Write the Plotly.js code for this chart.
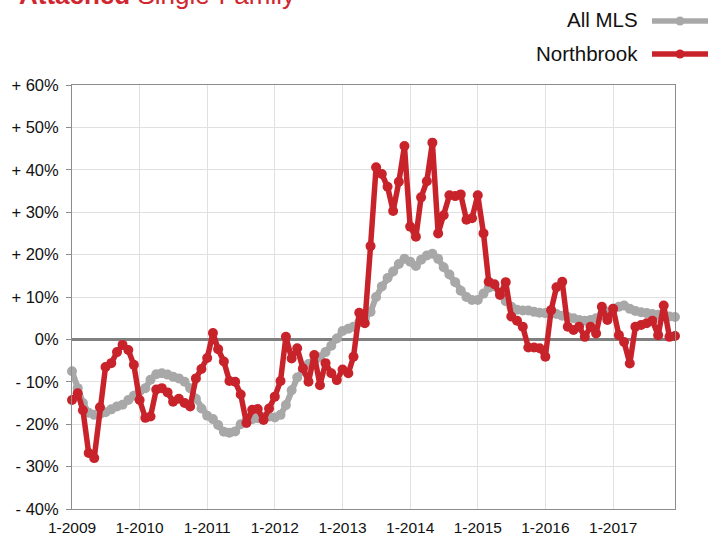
<!DOCTYPE html>
<html>
<head>
<meta charset="utf-8">
<script src="https://cdn.plot.ly/plotly-3.0.1.min.js"></script>
<style>
  html, body { margin: 0; padding: 0; background: #ffffff; }
  #chart { width: 716px; height: 535px; }
</style>
</head>
<body>
<div id="chart"></div>
<script>
// Monthly year-over-year % change, Jan 2009 .. Dec 2017
const startYear = 2009;
const endYear = 2017;

const allMLS = [
  -7.5, -11.5, -15, -17.3, -17.8, -17.6, -17.2, -16.5, -15.8, -15.4, -14.3, -13.3,
  -12.2, -11.5, -9.5, -8.2, -8, -8.3, -8.8, -9.2, -10, -11.5, -14, -16.3,
  -18, -18.8, -20.2, -21.8, -22, -21.7, -20, -19.2, -18.8, -18.6, -18.3, -18.2,
  -18.4, -17.8, -15.5, -12, -9, -7.3, -5.8, -5, -4.2, -3, -1.5, 0.2,
  2, 2.5, 3, 4, 5, 6.5, 10, 12.5, 14.5, 16, 17.8, 19,
  18.3, 17.3, 18.8, 19.8, 20.2, 19, 17, 15.3, 13.5, 11.5, 10, 9.3,
  9.3, 10.8, 12.2, 12.5, 11, 9, 7.7, 7, 6.8, 6.8, 6.5, 6.3,
  6.2, 6.2, 6, 5.6, 5.3, 5, 4.6, 4.4, 4.6, 5, 5.8, 6.5,
  7.2, 7.7, 8, 7.2, 6.7, 6.4, 6.2, 6, 5.8, 5.6, 5.4, 5.3
];

const northbrook = [
  -14.3, -12.7, -16.7, -26.8, -28, -16, -6.5, -5.6, -3, -1.3, -2.5, -6,
  -14.3, -18.5, -18.2, -11.8, -11.5, -12.5, -14.7, -14, -15, -15.8, -9.2, -7,
  -4.4, 1.5, -2.3, -5.2, -9.8, -10, -13, -19.7, -16.6, -16.4, -19, -16.3,
  -13.5, -9.8, 0.6, -4.5, -2.1, -6.8, -10, -3.7, -10.8, -5.6, -8, -9.6,
  -7.1, -8, -4.1, 6.3, 3.8, 22, 40.6, 39, 36, 30.3, 37.2, 45.6,
  26.6, 24.2, 33.5, 37.3, 46.4, 25, 29.3, 34, 33.8, 34.2, 28.2, 28.6,
  34, 25, 13.6, 13, 10.5, 13.5, 5.4, 4.4, 3, -1.9, -1.9, -2.1,
  -4.1, 6.9, 12.3, 13.6, 3, 2.2, 3, 0.6, 3, 1.4, 7.7, 4.6,
  7.2, 1, -0.6, -5.7, 3, 3.4, 3.8, 4.4, 1, 8, 0.6, 0.8
];

const yTickVals = [60, 50, 40, 30, 20, 10, 0, -10, -20, -30, -40];
const yTickText = ['+ 60%', '+ 50%', '+ 40%', '+ 30%', '+ 20%', '+ 10%', '0%', '- 10%', '- 20%', '- 30%', '- 40%'];

const xTickVals = [];
const xTickText = [];
for (let y = startYear; y <= endYear; y++) {
  xTickVals.push(y + '-01-01');
  xTickText.push('1-' + y);
}

const months = [];
for (let y = startYear; y <= endYear; y++) {
  for (let m = 1; m <= 12; m++) {
    months.push(y + '-' + String(m).padStart(2, '0') + '-01');
  }
}

const RED = '#c8232b';
const GRAY = '#a8a8a8';
const FONT = 'Liberation Sans, Arial, Helvetica, sans-serif';

// plot area in pixels
const L = 72, R = 41, T = 85, B = 26;
const W = 716, H = 535;
const pw = W - L - R, ph = H - T - B;
const px = v => (v - L) / pw;
const py = v => (H - B - v) / ph;

const traces = [
  {
    x: months, y: allMLS, name: 'All MLS', type: 'scatter', mode: 'lines+markers',
    line: { color: GRAY, width: 6 },
    marker: { color: GRAY, size: 10 },
    cliponaxis: false, showlegend: false
  },
  {
    x: months, y: northbrook, name: 'Northbrook', type: 'scatter', mode: 'lines+markers',
    line: { color: RED, width: 5.5 },
    marker: { color: RED, size: 10 },
    cliponaxis: false, showlegend: false
  }
];

const legendItems = [
  { text: 'All MLS', color: GRAY, yc: 21 },
  { text: 'Northbrook', color: RED, yc: 54 }
];

const annotations = [
  {
    text: '<b>Attached</b> Single-Family',
    xref: 'paper', yref: 'paper', x: px(17), y: py(12),
    xanchor: 'left', yanchor: 'bottom', showarrow: false,
    font: { family: FONT, size: 26, color: '#d0262f' }
  }
];
const shapes = [];
legendItems.forEach(it => {
  annotations.push({
    text: it.text, xref: 'paper', yref: 'paper', x: px(640), y: py(it.yc - 1),
    xanchor: 'right', yanchor: 'middle', showarrow: false,
    font: { family: FONT, size: 20.5, color: '#111111' }
  });
  shapes.push({
    type: 'line', xref: 'paper', yref: 'paper',
    x0: px(652), x1: px(708), y0: py(it.yc), y1: py(it.yc),
    line: { color: it.color, width: 5.5 }, layer: 'above'
  });
  shapes.push({
    type: 'circle', xref: 'paper', yref: 'paper',
    xsizemode: 'pixel', ysizemode: 'pixel',
    xanchor: px(680), yanchor: py(it.yc),
    x0: -4.5, x1: 4.5, y0: -4.5, y1: 4.5,
    fillcolor: it.color, line: { color: it.color, width: 0 }, layer: 'above'
  });
});

const layout = {
  width: W, height: H,
  margin: { l: L, r: R, t: T, b: B, pad: 0 },
  paper_bgcolor: '#ffffff', plot_bgcolor: '#ffffff',
  font: { family: FONT, size: 15, color: '#111111' },
  showlegend: false,
  xaxis: {
    type: 'date',
    range: [months[0], months[months.length - 1]],
    tickvals: xTickVals, ticktext: xTickText,
    showgrid: true, gridcolor: '#e0e0e0', gridwidth: 1,
    showline: true, linecolor: '#8c8c8c', linewidth: 1, mirror: true,
    ticks: '', zeroline: false, ticklabelstandoff: 4,
    tickfont: { family: FONT, size: 15.5, color: '#111111' }
  },
  yaxis: {
    range: [-40, 60],
    tickvals: yTickVals, ticktext: yTickText,
    showgrid: true, gridcolor: '#e0e0e0', gridwidth: 1,
    showline: true, linecolor: '#8c8c8c', linewidth: 1, mirror: true,
    ticks: 'outside', ticklen: 5, tickcolor: '#8c8c8c',
    zeroline: true, zerolinecolor: '#808080', zerolinewidth: 3,
    ticklabelstandoff: 4,
    tickfont: { family: FONT, size: 16.5, color: '#111111' }
  },
  annotations: annotations,
  shapes: shapes
};

Plotly.newPlot('chart', traces, layout, { displayModeBar: false, staticPlot: true });
</script>
</body>
</html>
